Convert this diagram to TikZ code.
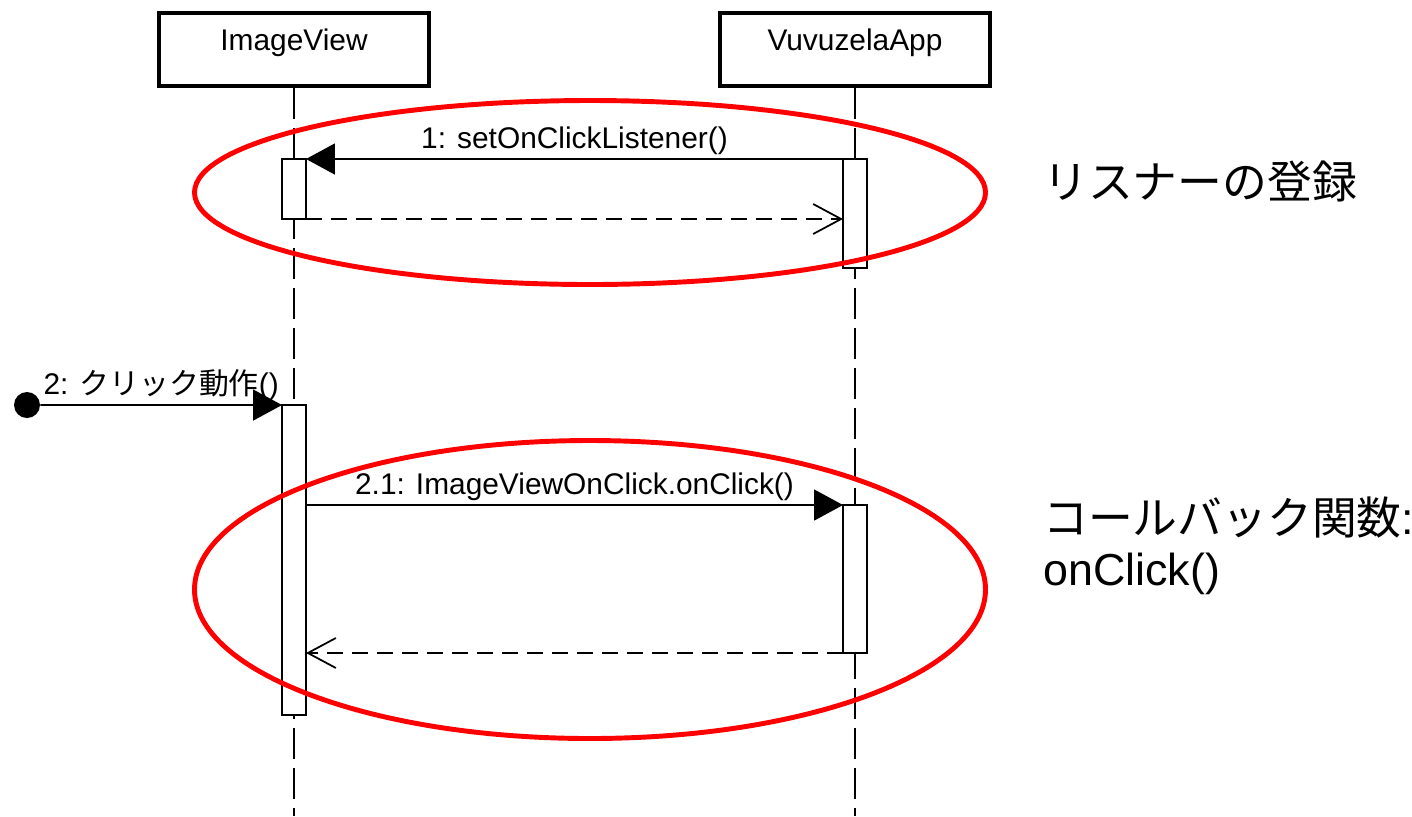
\documentclass[tikz,border=0pt]{standalone}
\usepackage{fontspec}
\setmainfont{Liberation Sans}
\newfontfamily\jp{Noto Sans CJK JP}
\usetikzlibrary{arrows.meta}

\begin{document}
\begin{tikzpicture}[x=0.02cm,y=-0.02cm,
  obj/.style={draw,line width=2.2pt,minimum width=5.4cm,minimum height=1.46cm,inner sep=0pt,text height=12pt,text depth=11pt,font=\fontsize{17}{20}\selectfont},
  act/.style={draw,fill=white,line width=1pt,minimum width=0.48cm,inner sep=0pt,outer sep=0pt},
  life/.style={line width=1pt,dash pattern=on 0.62cm off 0.18cm},
  call/.style={line width=1pt,-{Triangle[length=0.58cm,width=0.62cm]}},
  reply/.style={line width=1pt,dash pattern=on 0.32cm off 0.18cm,-{Straight Barb[length=0.56cm,width=0.6cm]}},
  lbl/.style={above,inner sep=2pt,font=\fontsize{17}{20}\selectfont},
  hilite/.style={draw=red,line width=2.8pt},
  note/.style={anchor=west,align=left,inner sep=0pt,font=\fontsize{25.5}{29}\selectfont}]
  \useasboundingbox (0,0) rectangle (1412,816);
  \node (img) at (294,49.5) [obj] {ImageView};
  \node (app) at (855,49.5) [obj] {VuvuzelaApp};
  \coordinate (imgend) at (294,816);
  \coordinate (append) at (855,816);
  \draw[life] (img.south) -- (imgend);
  \draw[life] (app.south) -- (append);
  \node (iact1) at (294,189)   [act,minimum height=1.2cm] {};
  \node (vact1) at (855,213.5) [act,minimum height=2.18cm] {};
  \node (iact2) at (294,560)   [act,minimum height=6.2cm] {};
  \node (vact2) at (855,579)   [act,minimum height=2.96cm] {};
  \node (init) at (27,405) [circle,fill,inner sep=0pt,minimum size=0.52cm] {};
  \draw[call] (vact1.north west) -- node[lbl] {1: setOnClickListener()} (iact1.north east);
  \draw[reply] (iact1.south east) -- (vact1.west |- iact1.south east);
  \draw[call] (init) -- node[lbl] {2: {\jp クリック動作}()} (iact2.north west);
  \draw[call] (iact2.east |- vact2.north) -- node[lbl] {2.1: ImageViewOnClick.onClick()} (vact2.north west);
  \draw[reply] (vact2.south west) -- (iact2.east |- vact2.south);
  \draw[hilite] (590,192.5) ellipse [x radius=395.5, y radius=92];
  \draw[hilite] (590,589.5) ellipse [x radius=395.5, y radius=149];
  \node (regnote) at (1043,181) [note] {\jp リスナーの登録};
  \node (cbnote) at (1043,546) [note] {{\jp コールバック関数}:\\onClick()};
\end{tikzpicture}
\end{document}
